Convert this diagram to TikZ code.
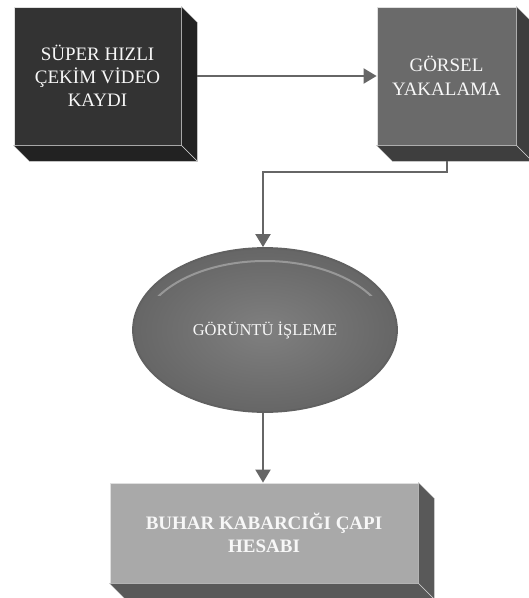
\documentclass[tikz,border=0pt]{standalone}
\usepackage{fontspec}
\setmainfont{Liberation Serif}
\usetikzlibrary{calc,arrows.meta,shapes.geometric}
\definecolor{frontA}{HTML}{333333}
\definecolor{sideA}{HTML}{222222}
\definecolor{frontB}{HTML}{6A6A6A}
\definecolor{sideB}{HTML}{3E3E3E}
\definecolor{frontC}{HTML}{A9A9A9}
\definecolor{sideC}{HTML}{595959}
\definecolor{connc}{HTML}{666666}
\tikzset{
  face/.style={rectangle, draw=white!75!gray, line width=0.8pt, align=center, text=white!94!gray, inner sep=0pt},
  conn/.style={draw=connc, line width=2pt, -{Triangle[width=15pt,length=13pt]}},
  sidefill/.style={fill=#1, draw=white!60!gray, line width=0.4pt}
}
\begin{document}
\begin{tikzpicture}[x=1pt,y=-1pt]
\useasboundingbox[fill=white] (0,0) rectangle (529,598);
% front faces
\node[face, fill=frontA, minimum width=167pt, minimum height=138pt, font=\fontsize{19}{23}\selectfont] (b1) at (97.5,76) {SÜPER HIZLI\\ÇEKİM VİDEO\\KAYDI};
\node[face, fill=frontB, minimum width=139pt, minimum height=138pt, font=\fontsize{19}{24}\selectfont] (b2) at (446.5,76) {GÖRSEL\\YAKALAMA};
\node[ellipse, draw=black!62, line width=1.8pt, inner color=black!50, outer color=black!60, minimum width=264pt, minimum height=164pt, text=white!94!gray, font=\fontsize{16.5}{19}\selectfont] (ell) at (265,330) {GÖRÜNTÜ İŞLEME};
\node[face, fill=frontC, minimum width=308pt, minimum height=100pt, font=\bfseries\fontsize{19}{23}\selectfont] (b3) at (264,533) {BUHAR KABARCIĞI ÇAPI\\HESABI};
% extrusions
\foreach \n/\c in {b1/sideA,b2/sideB,b3/sideC}{
  \path[sidefill=\c] (\n.north east) -- ++(16,16) -- ($(\n.south east)+(16,16)$) -- (\n.south east) -- cycle;
  \path[sidefill=\c] (\n.south west) -- ($(\n.south west)+(16,16)$) -- ($(\n.south east)+(16,16)$) -- (\n.south east) -- cycle;
}
% ellipse rim highlight
\begin{scope}
  \clip ([xshift=-5pt,yshift=35pt]ell.west) rectangle ([xshift=5pt,yshift=90pt]ell.east);
  \draw[white!65!gray, line width=2pt, opacity=0.45] ([yshift=-5pt]ell.center) ellipse [x radius=125pt, y radius=74pt];
\end{scope}
% connectors
\draw[conn] ([xshift=16pt]b1.east) -- (b2.west);
\draw[conn] ([yshift=-16pt]b2.south) -- ++(0,11) -| ([xshift=-2pt]ell.north);
\draw[conn] ([xshift=-2pt]ell.south) -- ([xshift=-1pt]b3.north);
\end{tikzpicture}
\end{document}
